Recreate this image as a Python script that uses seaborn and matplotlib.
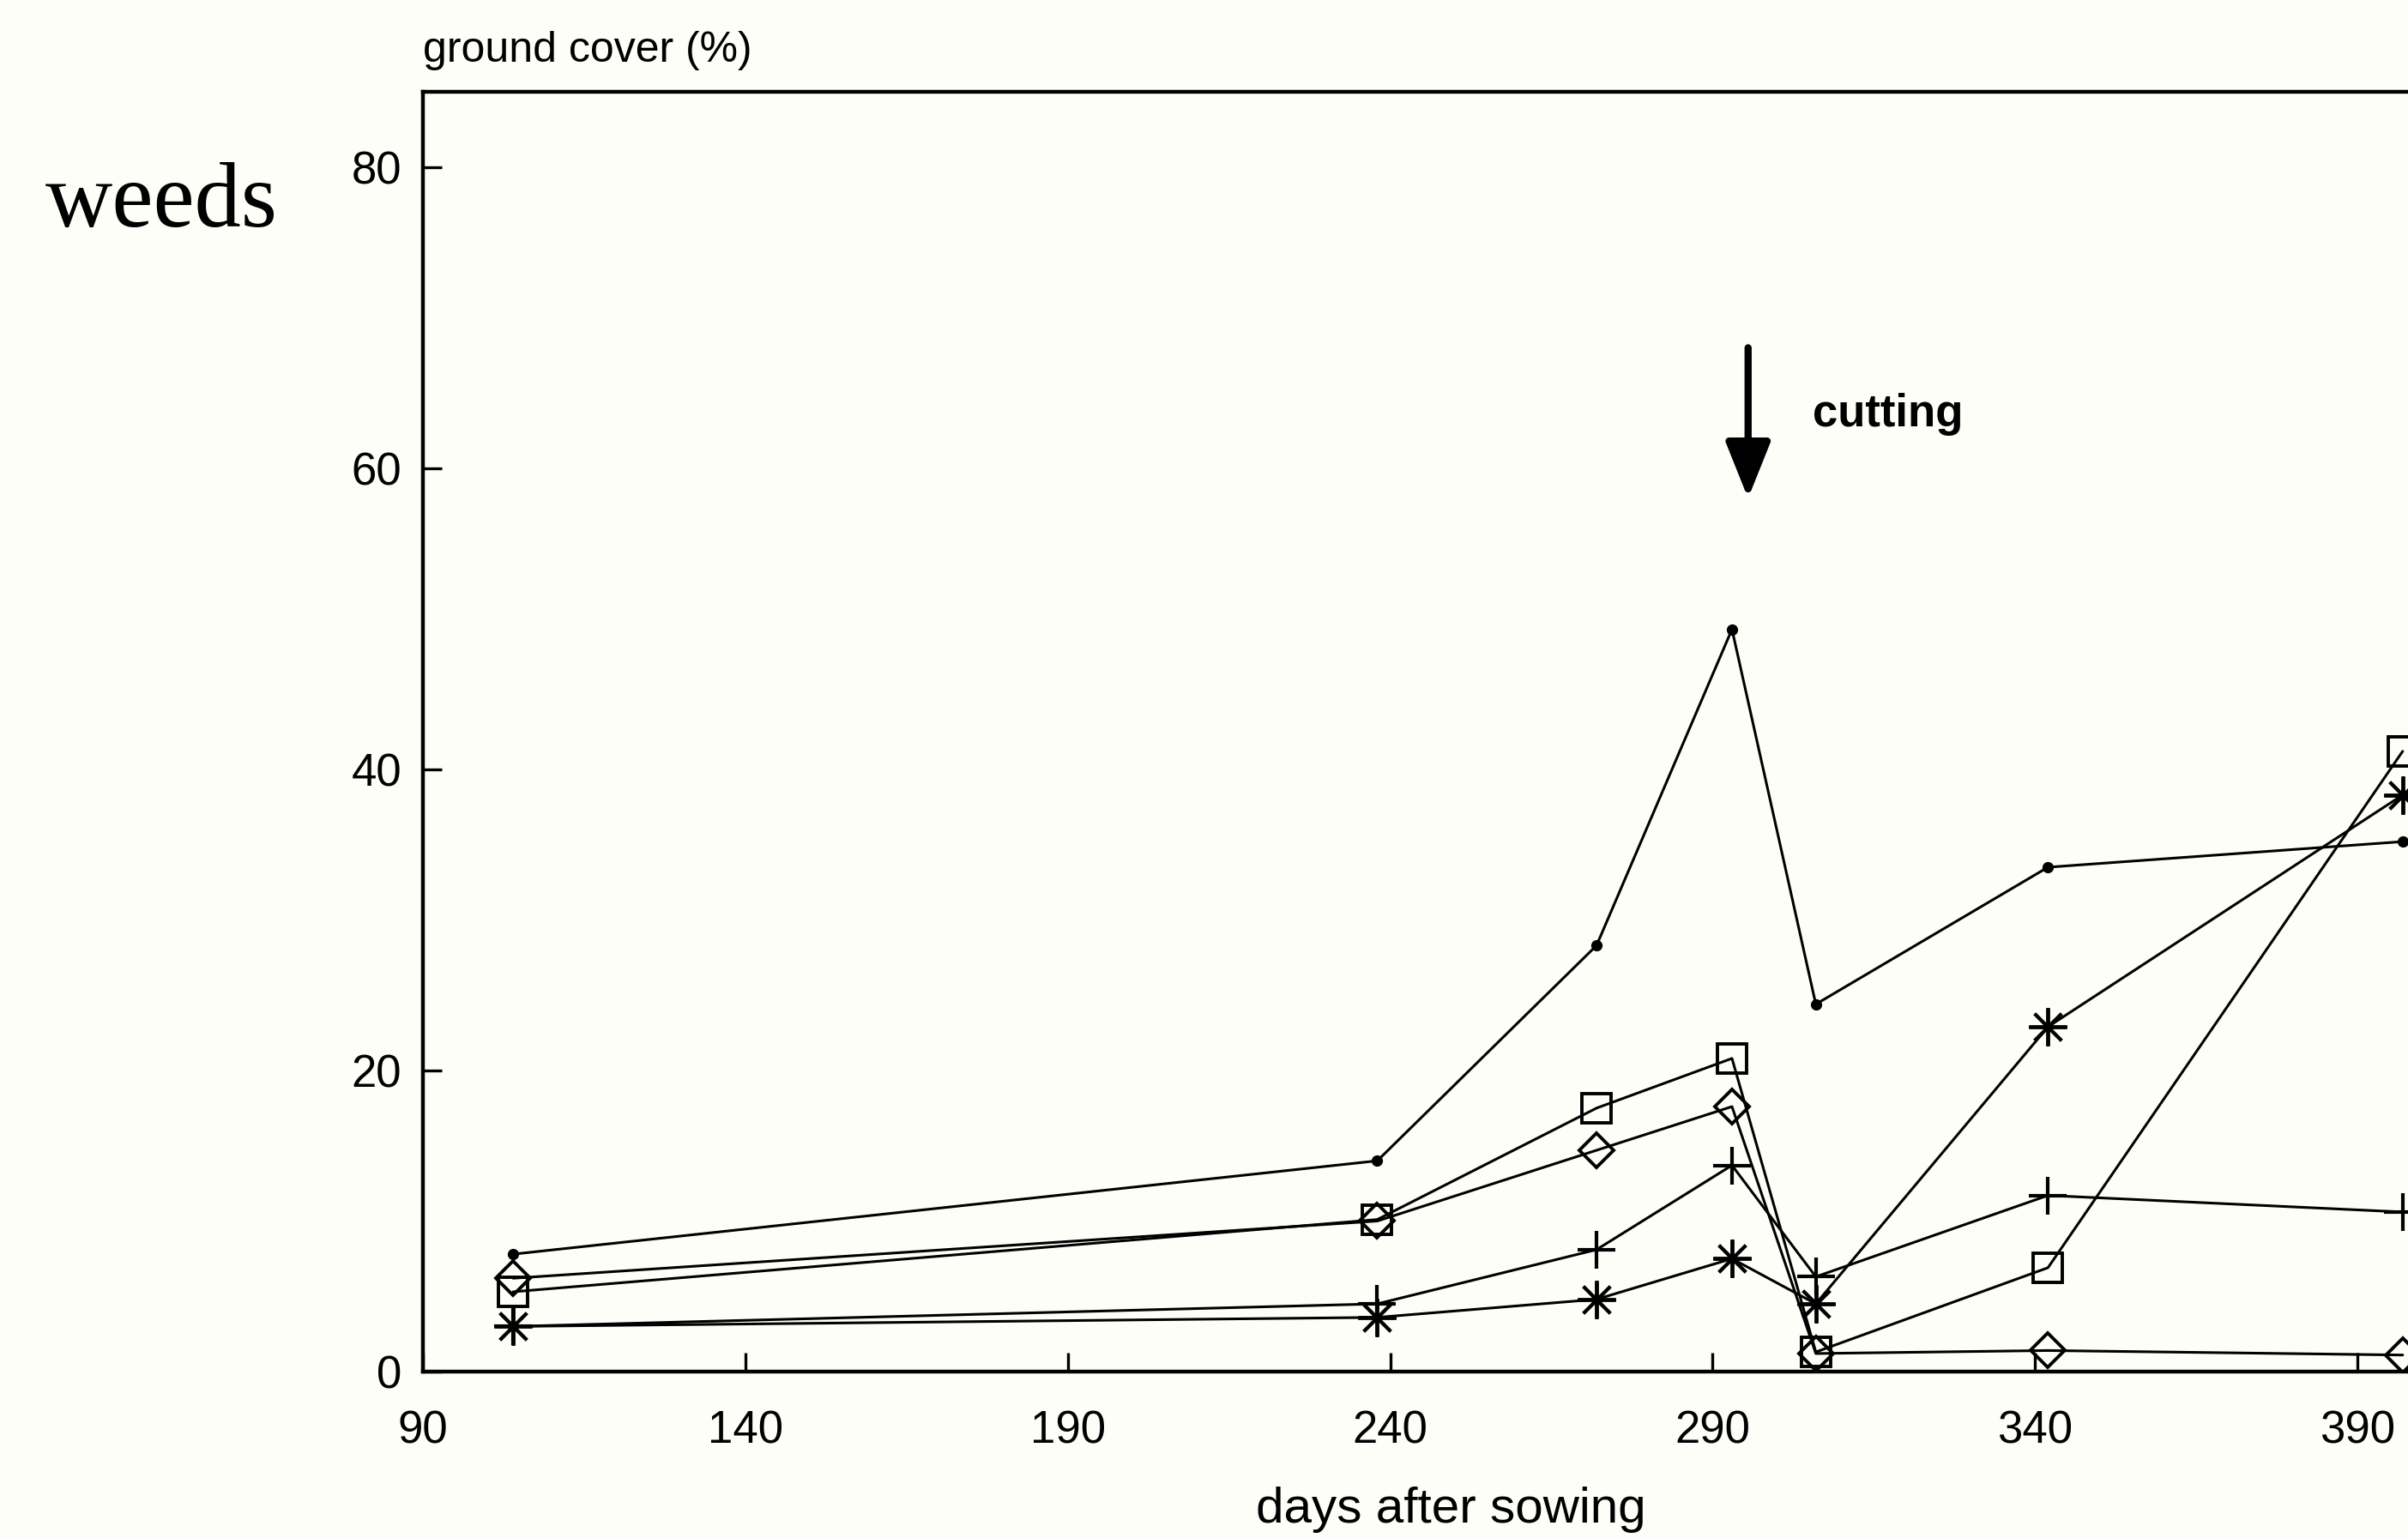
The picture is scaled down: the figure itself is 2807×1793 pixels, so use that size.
import pandas as pd
import seaborn as sns
import matplotlib.pyplot as plt

# ground cover of weeds (%)
days = [104, 238, 272, 293, 306, 342, 397]
dots = [7.8, 14.0, 28.3, 49.3, 24.4, 33.5, 35.2]
squares = [5.3, 10.1, 17.5, 20.8, 1.3, 6.9, 41.2]
diamonds = [6.2, 10.0, 14.7, 17.6, 1.2, 1.4, 1.1]
pluses = [3.0, 4.5, 8.1, 13.7, 6.3, 11.7, 10.6]
stars = [3.0, 3.6, 4.8, 7.5, 4.5, 22.9, 38.3]

x_ticks = [90, 140, 190, 240, 290, 340, 390]
y_ticks = [0, 20, 40, 60, 80]

sns.set_theme(style="white")
plt.rcParams['font.family'] = ['Liberation Sans', 'DejaVu Sans']
plt.rcParams['text.color'] = 'black'
plt.rcParams['xtick.color'] = 'black'
plt.rcParams['ytick.color'] = 'black'

bg = '#fefef8'
fig = plt.figure(figsize=(14.035, 8.965), dpi=200, facecolor=bg)
ax = fig.add_axes([0.1756, 0.1082, 0.857, 0.8321], facecolor=bg)

series = {
    'dot': (dots, dict(marker='o', markersize=4, markerfacecolor='black')),
    'square': (squares, dict(marker='s', markersize=12, markerfacecolor='none', markeredgewidth=1.4)),
    'diamond': (diamonds, dict(marker='D', markersize=10, markerfacecolor='none', markeredgewidth=1.4)),
    'plus': (pluses, dict(marker='+', markersize=16, markeredgewidth=1.5)),
    'star': (stars, dict(marker=(8, 2, 0), markersize=16, markeredgewidth=1.4)),
}

for name, (vals, style) in series.items():
    df = pd.DataFrame({'days': days, 'cover': vals})
    sns.lineplot(data=df, x='days', y='cover', ax=ax, color='black', linewidth=1.1,
                 markeredgecolor='black', clip_on=True, **style)

ax.set_xlim(90, 410)
ax.set_ylim(0, 85)
ax.set_xticks(x_ticks)
ax.set_yticks(y_ticks)
ax.set_xlabel('')
ax.set_ylabel('')
ax.tick_params(direction='in', length=8, width=1.2, color='black', labelsize=19,
               bottom=True, left=True, labelcolor='black')
ax.tick_params(axis='x', pad=16)
ax.tick_params(axis='y', pad=9)
for side in ['left', 'bottom', 'top']:
    ax.spines[side].set_color('black')
    ax.spines[side].set_linewidth(1.6)
ax.spines['right'].set_visible(False)

ax.text(0.498, -0.108, 'days after sowing', transform=ax.transAxes,
        ha='center', va='center', fontsize=21)
fig.text(0.1756, 0.96, 'ground cover (%)', ha='left', va='baseline', fontsize=18)
fig.text(0.019, 0.853, 'weeds', ha='left', va='baseline', fontsize=39,
         family=['Liberation Serif', 'DejaVu Serif'])

# cutting arrow
ax.annotate('', xy=(295.5, 58.0), xytext=(295.5, 68.0),
            arrowprops=dict(arrowstyle='-|>,head_length=1.0,head_width=0.4',
                            mutation_scale=20, color='black', lw=3,
                            shrinkA=0, shrinkB=0))
ax.text(305.5, 63.6, 'cutting', ha='left', va='center', fontsize=19, fontweight='bold')

fig.savefig('out.png', dpi=200, facecolor=bg)
